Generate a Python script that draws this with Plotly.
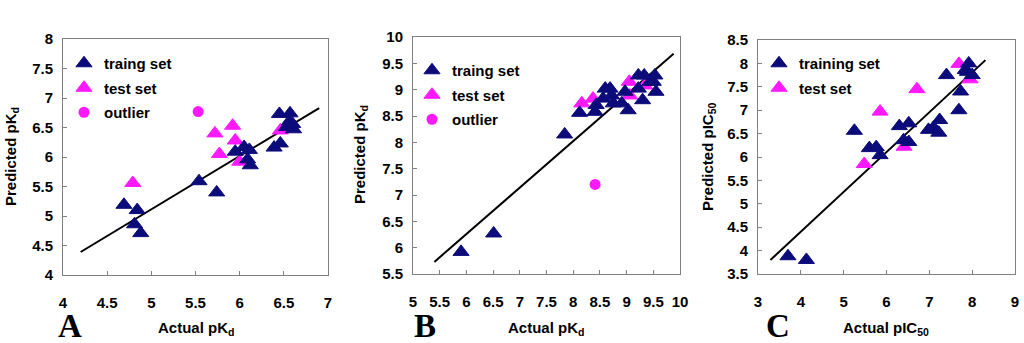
import plotly.graph_objects as go

# ---------------- Panel A ----------------
a_train_x = [4.69, 4.84, 4.81, 4.88, 5.54, 5.74, 5.95, 6.05, 6.11, 6.09, 6.12, 6.39, 6.46, 6.45, 6.57, 6.56, 6.61, 6.53, 6.60]
a_train_y = [5.19, 5.10, 4.86, 4.71, 5.59, 5.40, 6.09, 6.17, 6.12, 5.96, 5.86, 6.16, 6.23, 6.73, 6.74, 6.60, 6.47, 6.51, 6.56]
a_test_x = [4.79, 5.72, 5.77, 5.92, 5.95, 6.00, 6.46]
a_test_y = [5.56, 6.40, 6.05, 6.53, 6.28, 5.92, 6.45]
a_out_x = [5.53]
a_out_y = [6.77]
a_line_x = [4.2, 6.9]
a_line_y = [4.39, 6.83]

# ---------------- Panel B ----------------
b_train_x = [5.90, 6.51, 7.84, 8.12, 8.43, 8.41, 8.60, 8.69, 8.56, 8.72, 8.75, 8.91, 8.97, 9.03, 9.22, 9.33, 9.22, 9.30, 9.53, 9.50, 9.55, 9.44]
b_train_y = [5.92, 6.27, 8.15, 8.56, 8.71, 8.58, 9.02, 9.02, 8.83, 8.89, 8.74, 8.74, 8.96, 8.61, 9.27, 9.27, 9.02, 8.80, 9.27, 9.15, 8.96, 9.15]
b_test_x = [8.16, 8.37, 9.05, 9.06, 9.34]
b_test_y = [8.74, 8.83, 9.15, 8.89, 9.08]
b_out_x = [8.41]
b_out_y = [7.20]
b_line_x = [5.40, 9.88]
b_line_y = [5.73, 9.68]

# ---------------- Panel C ----------------
c_train_x = [3.70, 4.13, 5.25, 5.60, 5.76, 5.85, 6.30, 6.52, 6.40, 6.52, 6.98, 7.10, 7.24, 7.22, 7.40, 7.69, 7.73, 7.92, 7.89, 8.00, 7.84]
c_train_y = [3.88, 3.80, 6.56, 6.19, 6.21, 6.04, 6.66, 6.72, 6.36, 6.32, 6.58, 6.63, 6.79, 6.52, 7.75, 7.00, 7.40, 8.00, 7.82, 7.75, 7.86]
c_test_x = [5.48, 5.85, 6.41, 6.71, 7.69, 7.95]
c_test_y = [5.85, 6.97, 6.22, 7.45, 7.99, 7.66]
c_line_x = [3.29, 8.31]
c_line_y = [3.80, 8.07]

NAVY = "#0b0b7a"
MAG = "#ff19ff"
FONT = "Liberation Sans, Arial, sans-serif"
W, H = 1024, 343

def tri(x, y, color, name, xa, ya, leg, grp):
    return go.Scatter(x=x, y=y, mode="markers", name=name, xaxis=xa, yaxis=ya,
                      legend=leg, legendgroup=grp,
                      marker=dict(symbol="triangle-up", size=14, color=color,
                                  line=dict(color=color, width=1)))

def circ(x, y, name, xa, ya, leg, grp):
    return go.Scatter(x=x, y=y, mode="markers", name=name, xaxis=xa, yaxis=ya,
                      legend=leg, legendgroup=grp,
                      marker=dict(symbol="circle", size=11, color=MAG))

def line(x, y, xa, ya):
    return go.Scatter(x=x, y=y, mode="lines", showlegend=False, xaxis=xa, yaxis=ya,
                      line=dict(color="black", width=2), hoverinfo="skip")

fig = go.Figure()
# Panel A
fig.add_trace(line(a_line_x, a_line_y, "x", "y"))
fig.add_trace(tri(a_test_x, a_test_y, MAG, "test set", "x", "y", "legend", "a2"))
fig.add_trace(tri(a_train_x, a_train_y, NAVY, "traing set", "x", "y", "legend", "a1"))
fig.add_trace(circ(a_out_x, a_out_y, "outlier", "x", "y", "legend", "a3"))
# Panel B
fig.add_trace(line(b_line_x, b_line_y, "x2", "y2"))
fig.add_trace(tri(b_test_x, b_test_y, MAG, "test set", "x2", "y2", "legend2", "b2"))
fig.add_trace(tri(b_train_x, b_train_y, NAVY, "traing set", "x2", "y2", "legend2", "b1"))
fig.add_trace(circ(b_out_x, b_out_y, "outlier", "x2", "y2", "legend2", "b3"))
# Panel C
fig.add_trace(line(c_line_x, c_line_y, "x3", "y3"))
fig.add_trace(tri(c_test_x, c_test_y, MAG, "test set", "x3", "y3", "legend3", "c2"))
fig.add_trace(tri(c_train_x, c_train_y, NAVY, "training set", "x3", "y3", "legend3", "c1"))

for tr in fig.data:
    if tr.name in ("traing set", "training set"):
        tr.legendrank = 1
    elif tr.name == "test set":
        tr.legendrank = 2
    elif tr.name == "outlier":
        tr.legendrank = 3

tickfont = dict(family=FONT, size=15, color="black", weight="bold")

def xax(domain, rng, dtick, anchor):
    return dict(domain=domain, range=rng, dtick=dtick, anchor=anchor, showgrid=False,
                zeroline=False, showline=True, mirror=True, linecolor="#808080", linewidth=1,
                ticks="inside", ticklen=4, tickcolor="#808080", tickfont=tickfont,
                ticklabelstandoff=14, automargin=False)

def yax(domain, rng, dtick, anchor):
    return dict(domain=domain, range=rng, dtick=dtick, anchor=anchor, showgrid=False,
                zeroline=False, showline=True, mirror=True, linecolor="#808080", linewidth=1,
                ticks="inside", ticklen=4, tickcolor="#808080", tickfont=tickfont,
                ticklabelstandoff=6, automargin=False)

def px_x(p):
    return p / W

def px_y(p):
    return 1 - p / H

fig.update_layout(
    width=W, height=H, margin=dict(l=0, r=0, t=0, b=0, autoexpand=False),
    paper_bgcolor="white", plot_bgcolor="white",
    font=dict(family=FONT, size=15, color="black"),
    xaxis=xax([px_x(63), px_x(328)], [4, 7], 0.5, "y"),
    yaxis=yax([px_y(275), px_y(39)], [4, 8], 0.5, "x"),
    xaxis2=xax([px_x(413), px_x(680)], [5, 10], 0.5, "y2"),
    yaxis2=yax([px_y(274), px_y(37)], [5.5, 10], 0.5, "x2"),
    xaxis3=xax([px_x(758), px_x(1015)], [3, 9], 1, "y3"),
    yaxis3=yax([px_y(274), px_y(40)], [3.5, 8.5], 0.5, "x3"),
)

legfont = dict(family=FONT, size=15, color="black", weight="bold")
def leg(xp, yp):
    return dict(x=px_x(xp), y=px_y(yp), xanchor="left", yanchor="top", font=legfont,
                bgcolor="rgba(0,0,0,0)", borderwidth=0, tracegroupgap=2,
                itemclick=False, itemdoubleclick=False)

fig.update_layout(legend=leg(64, 47), legend2=leg(412, 54), legend3=leg(759, 47))

annots = []
titfont = dict(family=FONT, size=15, color="black", weight="bold")
for cx, txt in [(195.5, "Actual pK<sub>d</sub>"), (546, "Actual pK<sub>d</sub>"), (886, "Actual pIC<sub>50</sub>")]:
    annots.append(dict(x=px_x(cx), y=px_y(328), xref="paper", yref="paper", text=txt,
                       showarrow=False, font=titfont, xanchor="center", yanchor="middle"))
for cx, cy, txt in [(11, 157, "Predicted pK<sub>d</sub>"), (361, 155, "Predicted pK<sub>d</sub>"), (708, 157, "Predicted pIC<sub>50</sub>")]:
    annots.append(dict(x=px_x(cx), y=px_y(cy), xref="paper", yref="paper", text=txt,
                       showarrow=False, font=titfont, textangle=-90, xanchor="center", yanchor="middle"))
letfont = dict(family="Liberation Serif, Times New Roman, serif", size=33, color="black", weight="bold")
for cx, txt in [(70, "A"), (425, "B"), (778, "C")]:
    annots.append(dict(x=px_x(cx), y=px_y(326), xref="paper", yref="paper", text=txt,
                       showarrow=False, font=letfont, xanchor="center", yanchor="middle"))
fig.update_layout(annotations=annots)

fig.write_html("out.html", config={"displayModeBar": False},
               post_script="document.body.style.margin='0';document.body.style.overflow='hidden';")
